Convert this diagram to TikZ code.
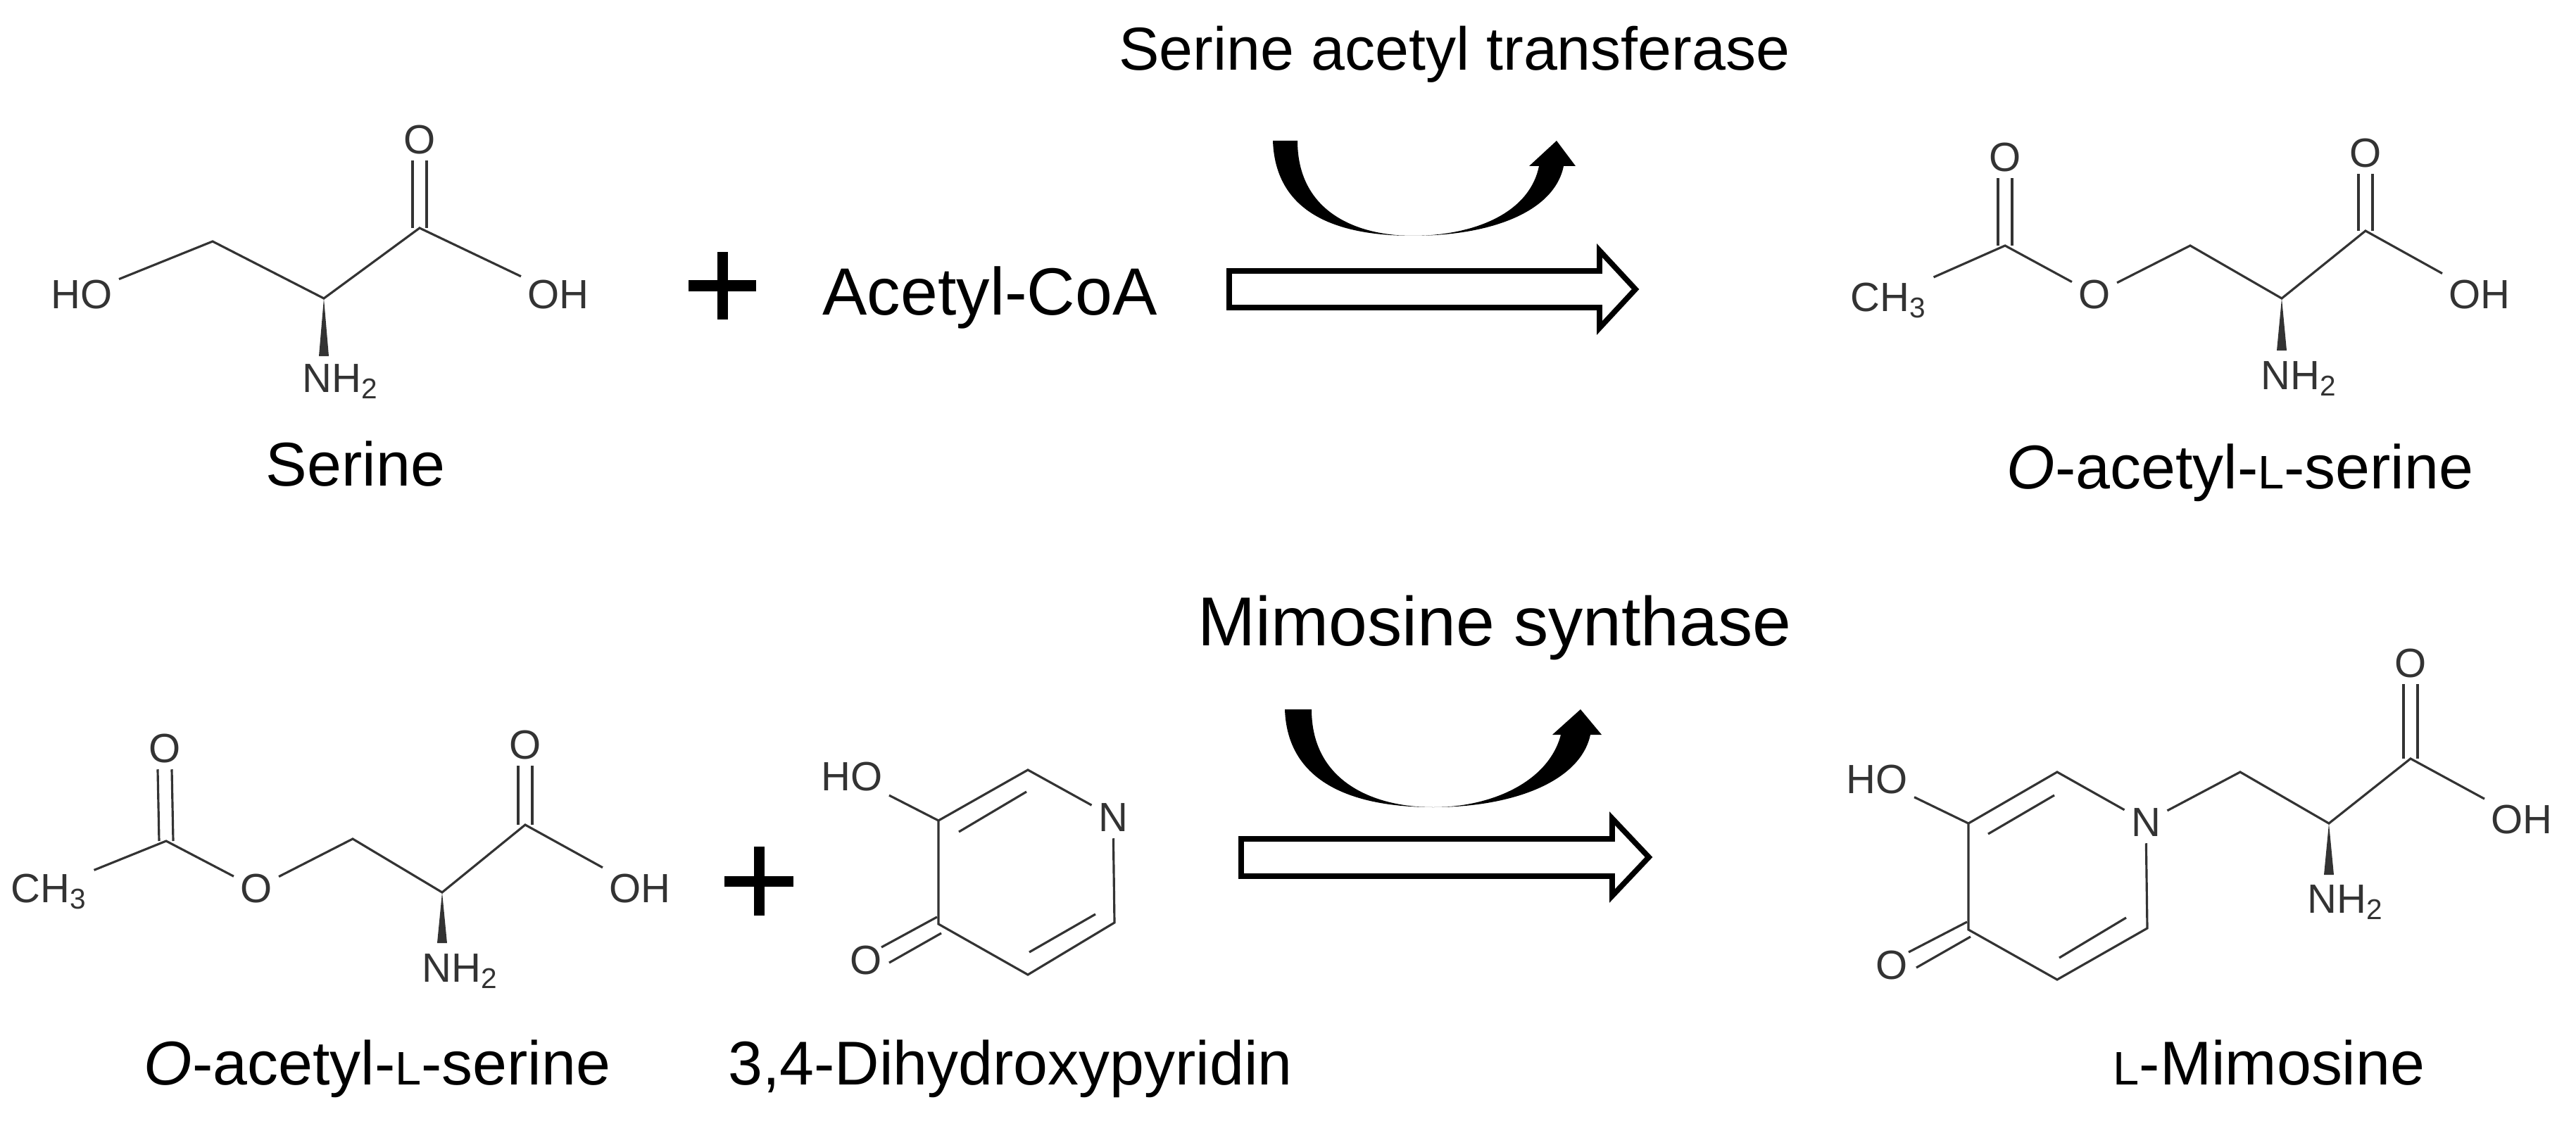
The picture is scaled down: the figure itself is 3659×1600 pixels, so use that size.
\documentclass[tikz,border=0pt]{standalone}
\usepackage{fontspec}
\setmainfont{Liberation Sans}
\definecolor{bond}{HTML}{333333}
\newcommand{\smL}{{\fontsize{19}{19}\selectfont L}}
\begin{document}
\begin{tikzpicture}[x=0.01cm,y=-0.01cm,
  bd/.style={draw=bond,line width=0.9pt},
  atom/.style={font=\fontsize{16.5}{16.5}\selectfont,text=bond,inner sep=2.5pt,text height=11.8pt,text depth=0pt},
  molname/.style={font=\fontsize{25}{25}\selectfont,anchor=base,inner sep=0pt},
  title/.style={inner sep=0pt,anchor=base},
  oarrow/.style={draw=black,line width=2.2pt,fill=white,line join=miter},
  plus/.style={fill=black}]
\useasboundingbox (0,0) rectangle (3659,1600);

% ---------- Serine ----------
\node[atom] (s_ho) at (116,418) {HO};
\coordinate (s_c1) at (302,343);
\coordinate (s_ca) at (460,424);
\coordinate (s_c) at (596,324);
\node[atom] (s_o) at (596,198) {O};
\node[atom] (s_oh) at (793,418) {OH};
\node[atom] (s_n) at (484,537) {NH\textsubscript{2}};
\coordinate (s_w) at (460,506);
\draw[bd] (s_ho) -- (s_c1) -- (s_ca) -- (s_c) -- (s_oh);
\draw[bd] ([xshift=-0.1cm]s_o.south) -- ([xshift=-0.1cm]s_c);
\draw[bd] ([xshift=0.1cm]s_o.south) -- ([xshift=0.1cm]s_c);
\fill[bond] (s_ca) -- ([xshift=-0.07cm]s_w) -- ([xshift=0.07cm]s_w) -- cycle;
\node[molname] (l_ser) at (505,690) {Serine};

% plus 1
\node[plus,minimum width=0.96cm,minimum height=0.15cm,inner sep=0pt] (p1a) at (1026,406) {};
\node[plus,minimum width=0.15cm,minimum height=0.96cm,inner sep=0pt] (p1b) at (1026,406) {};

\node[title,font=\fontsize{27}{27}\selectfont] (acoa) at (1406,447) {Acetyl-CoA};
\node[title,font=\fontsize{24.5}{24.5}\selectfont] (sat) at (2066,100) {Serine acetyl transferase};

% curved arrow top
\fill[black] (1808,200) .. controls (1812,315) and (1920,335) .. (2007,335)
  .. controls (2120,335) and (2208,300) .. (2221,236) -- (2238,236) -- (2211,200) -- (2172,236) -- (2186,236)
  .. controls (2172,305) and (2090,335) .. (2007,335)
  .. controls (1925,335) and (1843,300) .. (1843,200) -- cycle;
% open arrow top
\draw[oarrow] (1746,385) -- (2272,385) -- (2272,356) -- (2323,411) -- (2272,466) -- (2272,437) -- (1746,437) -- cycle;

% ---------- O-acetyl-L-serine (top right) ----------
\node[atom] (a_ch3) at (2683,422) {CH\textsubscript{3}};
\coordinate (a_cc) at (2848,349);
\node[atom] (a_o1) at (2848,223) {O};
\node[atom] (a_oe) at (2975,418) {O};
\coordinate (a_ch2) at (3111,349);
\coordinate (a_ca) at (3241,424);
\coordinate (a_c) at (3360,328);
\node[atom] (a_o2) at (3360,217) {O};
\node[atom] (a_oh) at (3522,418) {OH};
\node[atom] (a_n) at (3266,533) {NH\textsubscript{2}};
\coordinate (a_w) at (3241,498);
\draw[bd] (a_ch3) -- (a_cc) -- (a_oe) -- (a_ch2) -- (a_ca) -- (a_c) -- (a_oh);
\draw[bd] ([xshift=-0.1cm]a_o1.south) -- ([xshift=-0.1cm]a_cc);
\draw[bd] ([xshift=0.1cm]a_o1.south) -- ([xshift=0.1cm]a_cc);
\draw[bd] ([xshift=-0.1cm]a_o2.south) -- ([xshift=-0.1cm]a_c);
\draw[bd] ([xshift=0.1cm]a_o2.south) -- ([xshift=0.1cm]a_c);
\fill[bond] (a_ca) -- ([xshift=-0.07cm]a_w) -- ([xshift=0.07cm]a_w) -- cycle;
\node[molname] (l_oas1) at (3182,694) {\textit{O}-acetyl-\smL-serine};

% ---------- O-acetyl-L-serine (bottom left) ----------
\node[atom] (b_ch3) at (70,1262) {CH\textsubscript{3}};
\coordinate (b_cc) at (236,1195);
\node[atom] (b_o1) at (234,1063) {O};
\node[atom] (b_oe) at (364,1262) {O};
\coordinate (b_ch2) at (501,1192);
\coordinate (b_ca) at (628,1268);
\coordinate (b_c) at (746,1172);
\node[atom] (b_o2) at (746,1058) {O};
\node[atom] (b_oh) at (909,1262) {OH};
\node[atom] (b_n) at (654,1375) {NH\textsubscript{2}};
\coordinate (b_w) at (628,1340);
\draw[bd] (b_ch3) -- (b_cc) -- (b_oe) -- (b_ch2) -- (b_ca) -- (b_c) -- (b_oh);
\draw[bd] ([xshift=-0.1cm]b_o1.south) -- ([xshift=-0.1cm]b_cc);
\draw[bd] ([xshift=0.1cm]b_o1.south) -- ([xshift=0.1cm]b_cc);
\draw[bd] ([xshift=-0.1cm]b_o2.south) -- ([xshift=-0.1cm]b_c);
\draw[bd] ([xshift=0.1cm]b_o2.south) -- ([xshift=0.1cm]b_c);
\fill[bond] (b_ca) -- ([xshift=-0.07cm]b_w) -- ([xshift=0.07cm]b_w) -- cycle;
\node[molname] (l_oas2) at (536,1541) {\textit{O}-acetyl-\smL-serine};

% plus 2
\node[plus,minimum width=0.98cm,minimum height=0.15cm,inner sep=0pt] (p2a) at (1078,1252) {};
\node[plus,minimum width=0.15cm,minimum height=0.98cm,inner sep=0pt] (p2b) at (1078,1252) {};

% ---------- 3,4-Dihydroxypyridin ----------
\node[atom] (d_ho) at (1210,1103) {HO};
\coordinate (d_c3) at (1333,1166);
\coordinate (d_c2) at (1460,1094);
\node[atom] (d_n) at (1581,1161) {N};
\coordinate (d_c6) at (1583,1311);
\coordinate (d_c5) at (1460,1385);
\coordinate (d_c4) at (1333,1313);
\node[atom] (d_o) at (1230,1364) {O};
\coordinate (d_i1) at (1362,1182); \coordinate (d_i2) at (1458,1125);
\coordinate (d_i3) at (1556,1299); \coordinate (d_i4) at (1462,1353);
\coordinate (d_k1) at (1252,1346); \coordinate (d_k2) at (1331,1303);
\coordinate (d_k3) at (1263,1368); \coordinate (d_k4) at (1337,1326);
\draw[bd] (d_ho) -- (d_c3) -- (d_c2) -- (d_n) -- (d_c6) -- (d_c5) -- (d_c4) -- (d_c3);
\draw[bd] (d_i1) -- (d_i2);
\draw[bd] (d_i3) -- (d_i4);
\draw[bd] (d_k1) -- (d_k2);
\draw[bd] (d_k3) -- (d_k4);
\node[molname] (l_dhp) at (1435,1541) {3,4-Dihydroxypyridin};

\node[title,font=\fontsize{28}{28}\selectfont,anchor=base west] (ms) at (1701,917) {Mimosine synthase};

% curved arrow bottom
\fill[black] (1825,1008) .. controls (1829,1125) and (1945,1147) .. (2036,1147)
  .. controls (2150,1147) and (2245,1110) .. (2259,1044) -- (2275,1044) -- (2245,1008) -- (2205,1044) -- (2217,1044)
  .. controls (2200,1110) and (2120,1147) .. (2036,1147)
  .. controls (1950,1147) and (1863,1110) .. (1863,1008) -- cycle;
% open arrow bottom
\draw[oarrow] (1763,1192) -- (2290,1192) -- (2290,1163) -- (2342,1218) -- (2290,1273) -- (2290,1245) -- (1763,1245) -- cycle;

% ---------- L-Mimosine ----------
\node[atom] (m_ho) at (2666,1107) {HO};
\coordinate (m_c3) at (2796,1170);
\coordinate (m_c2) at (2922,1097);
\node[atom] (m_n) at (3048,1168) {N};
\coordinate (m_c6) at (3050,1319);
\coordinate (m_c5) at (2922,1392);
\coordinate (m_c4) at (2796,1321);
\node[atom] (m_o) at (2687,1371) {O};
\coordinate (m_i1) at (2824,1185); \coordinate (m_i2) at (2918,1130);
\coordinate (m_i3) at (3020,1304); \coordinate (m_i4) at (2925,1361);
\coordinate (m_k1) at (2711,1353); \coordinate (m_k2) at (2794,1310);
\coordinate (m_k3) at (2722,1375); \coordinate (m_k4) at (2799,1331);
\coordinate (m_ch2) at (3182,1097);
\coordinate (m_ca) at (3308,1170);
\coordinate (m_c) at (3424,1078);
\node[atom] (m_o2) at (3424,942) {O};
\node[atom] (m_oh) at (3582,1164) {OH};
\node[atom] (m_nh) at (3332,1277) {NH\textsubscript{2}};
\coordinate (m_w) at (3308,1243);
\draw[bd] (m_ho) -- (m_c3) -- (m_c2) -- (m_n) -- (m_c6) -- (m_c5) -- (m_c4) -- (m_c3);
\draw[bd] (m_i1) -- (m_i2);
\draw[bd] (m_i3) -- (m_i4);
\draw[bd] (m_k1) -- (m_k2);
\draw[bd] (m_k3) -- (m_k4);
\draw[bd] (m_n) -- (m_ch2) -- (m_ca) -- (m_c) -- (m_oh);
\draw[bd] ([xshift=-0.1cm]m_o2.south) -- ([xshift=-0.1cm]m_c);
\draw[bd] ([xshift=0.1cm]m_o2.south) -- ([xshift=0.1cm]m_c);
\fill[bond] (m_ca) -- ([xshift=-0.07cm]m_w) -- ([xshift=0.07cm]m_w) -- cycle;
\node[molname] (l_mim) at (3223,1541) {\smL-Mimosine};
\end{tikzpicture}
\end{document}
